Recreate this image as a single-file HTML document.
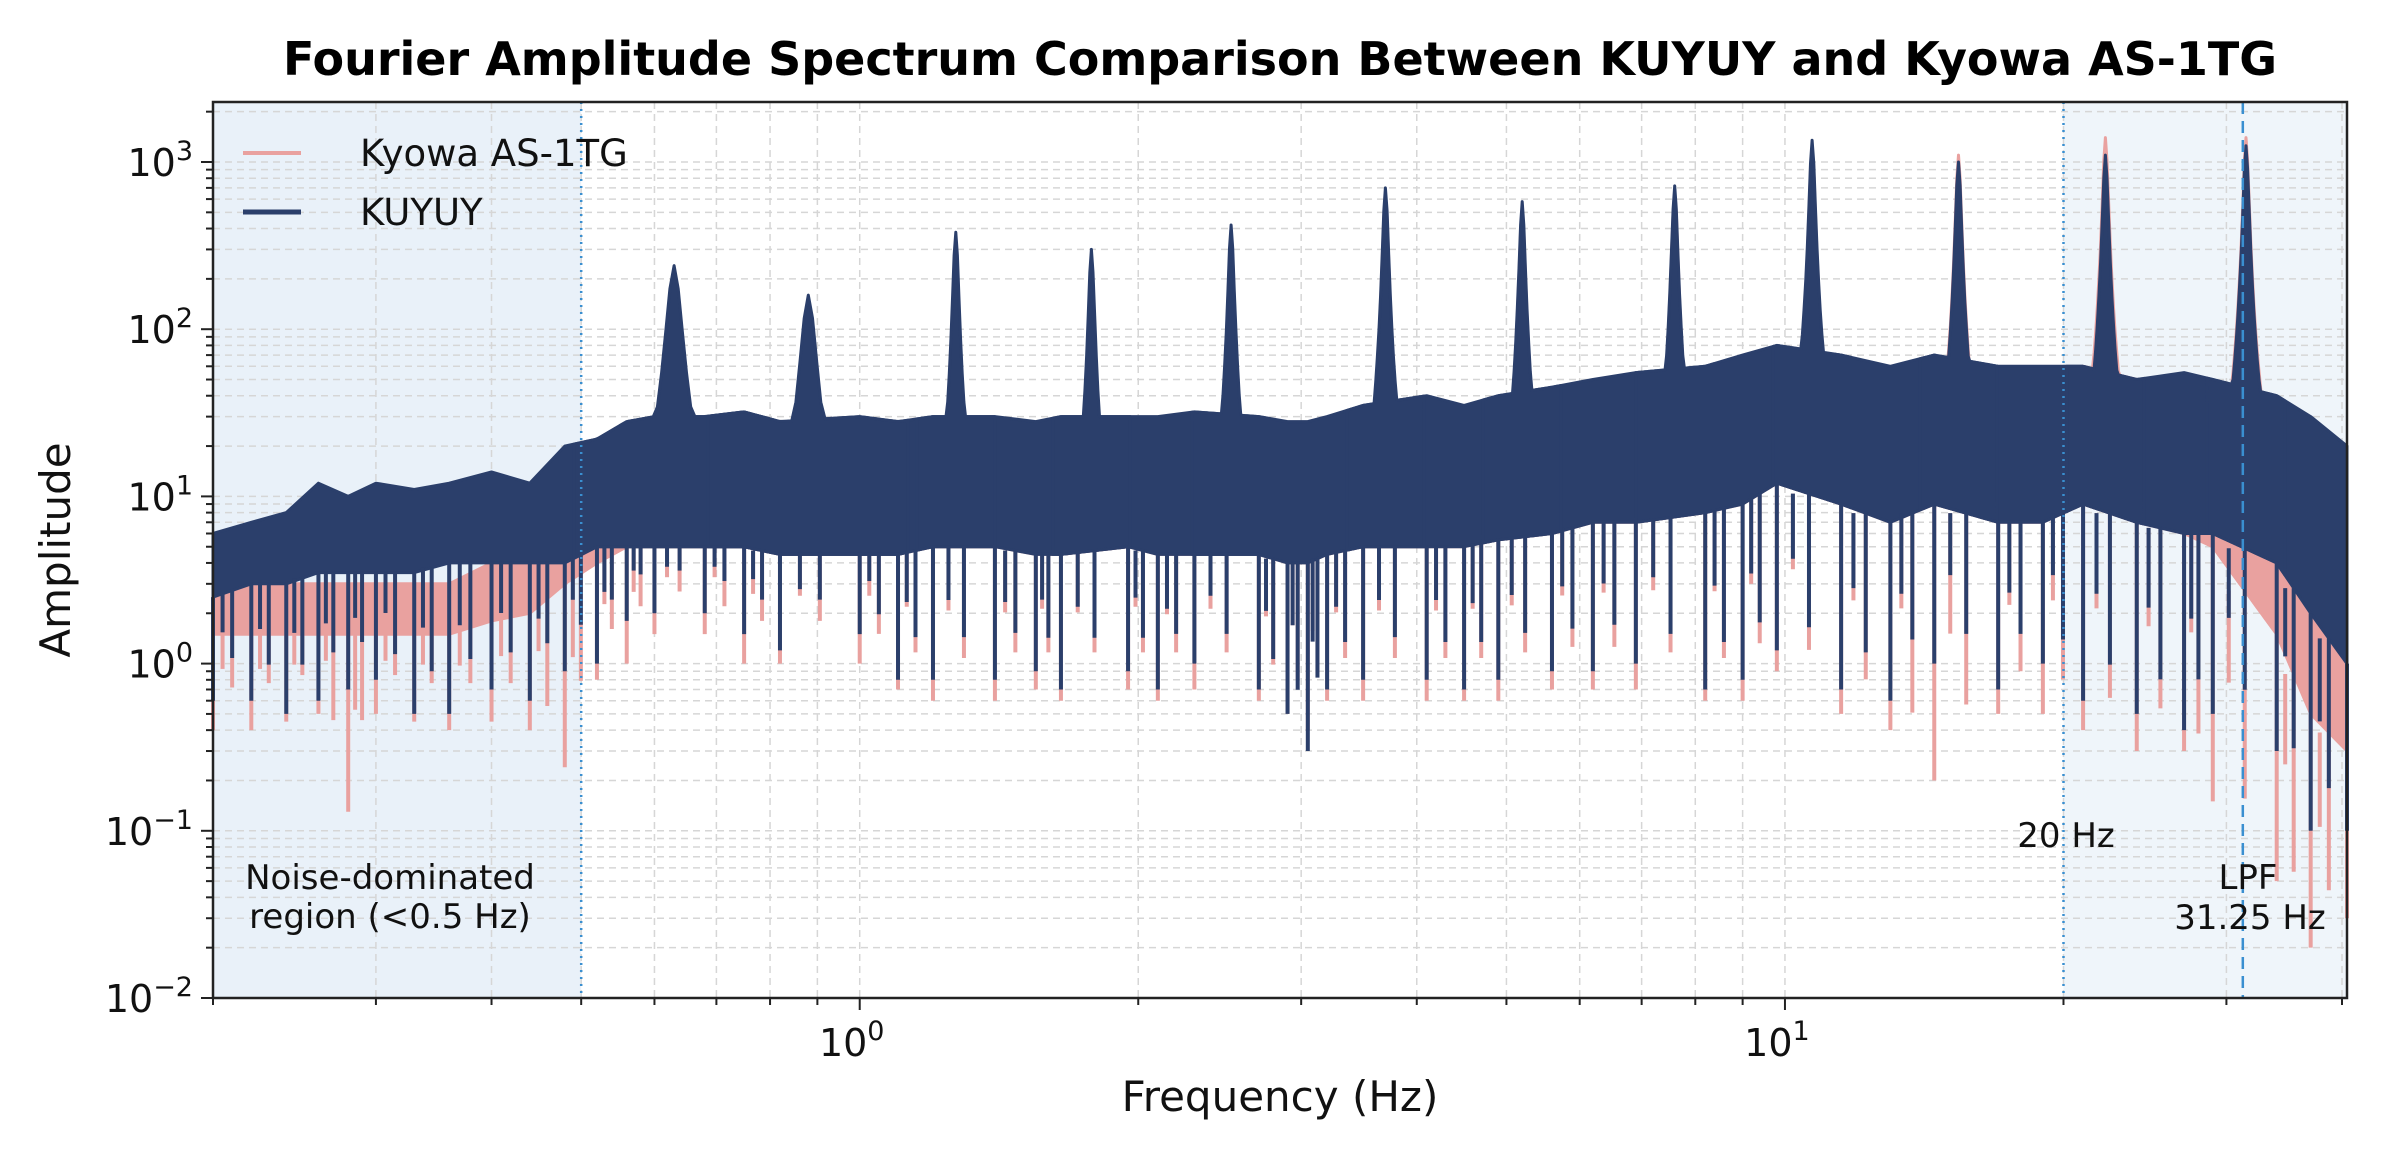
<!DOCTYPE html>
<html><head><meta charset="utf-8"><style>
html,body{margin:0;padding:0;background:#fff;}
svg{display:block;font-family:"DejaVu Sans","Liberation Sans",sans-serif;}
</style></head><body>
<svg id="chart" width="2382" height="1157" viewBox="0 0 2382 1157" xmlns="http://www.w3.org/2000/svg">
<text x="1280" y="75" text-anchor="middle" font-size="46" font-weight="bold" fill="#000">Fourier Amplitude Spectrum Comparison Between KUYUY and Kyowa AS-1TG</text>
<g id="plot"></g>
</svg>
<script>
const freqs   = [0.2,0.22,0.24,0.26,0.28,0.3,0.33,0.36,0.4,0.44,0.48,0.52,0.56,0.6,0.68,0.75,0.82,1.0,1.1,1.2,1.4,1.55,1.65,1.95,2.1,2.3,2.7,2.9,3.05,3.2,3.5,4.1,4.5,4.9,5.6,6.2,6.9,8.2,9.0,9.8,11.5,13,14.5,17,19,21,24,27,29,34,37,40.5];
const kuyuyHi = [6,7,8,12,10,12,11,12,14,12,20,22,28,30,30,32,28,30,28,30,30,28,30,30,30,32,30,28,28,30,35,40,35,40,45,50,55,60,70,80,70,60,70,60,60,60,50,55,50,40,30,20];
const kuyuyCore=[2.5,3,3,3.5,3.5,3.5,3.5,4,4,4,4,5,5,5,5,5,4.5,4.5,4.5,5,5,4.5,4.5,5,4.5,4.5,4.5,4,4,4.5,5,5,5,5.5,6,7,7,8,9,12,9,7,9,7,7,9,7,6,6,4,2,1];
const kuyuyLo = [0.6,0.6,0.5,0.6,0.7,0.8,0.5,0.5,0.7,0.6,0.9,1,1.8,2,2,1.5,1.2,1.5,0.8,0.8,0.8,0.9,0.7,0.9,0.7,1,0.7,0.5,0.3,0.7,0.8,0.8,0.7,0.8,0.9,0.9,1,0.7,0.8,1.2,0.7,0.6,1,0.7,1,0.6,0.5,0.4,0.5,0.3,0.1,0.1];
const kyowaHi = [3,3,3,3,3,3,3,3,4,5,10,15,20,25,25,25,25,25,25,25,25,25,25,25,25,25,25,25,25,25,30,35,30,35,40,45,50,55,60,70,60,55,60,55,55,60,50,50,45,35,25,15];
const kyowaCore=[1.5,1.5,1.5,1.5,1.5,1.5,1.5,1.5,1.8,2,3,4,5,5,5,5,4.5,4.5,4.5,5,5,4.5,4.5,5,4.5,4.5,4.5,4,4,4.5,5,5,5,5.5,6,7,7,8,9,12,9,7,9,7,7,9,7,6,5,1.5,0.5,0.3];
const kyowaLo = [0.4,0.4,0.45,0.5,0.13,0.5,0.45,0.4,0.45,0.4,0.24,0.8,1,1.5,1.5,1,1,1,0.7,0.6,0.6,0.7,0.6,0.7,0.6,0.7,0.6,0.5,0.4,0.6,0.6,0.6,0.6,0.6,0.7,0.7,0.7,0.6,0.6,0.9,0.5,0.4,0.2,0.5,0.5,0.4,0.3,0.3,0.15,0.05,0.02,0.03];
const peakFreqs = [0.63,0.88,1.27,1.78,2.52,3.7,5.2,7.6,10.7,15.4,22.2,31.5];
const kuyuyPeaks = [240,160,380,300,420,700,580,720,1350,1000,1100,1250];
const kyowaPeaks = [200,140,330,260,380,650,540,680,1250,1100,1400,1400];
const yTicks = [-2,-1,0,1,2,3];
const xTicks = [0,1];

const L=213,R=2347,T=102,B=998;
const XMIN=0.2,XMAX=40.5,YMINE=-2,DEC=167.2;
const xs=f=>L+(Math.log10(f)-Math.log10(XMIN))/(Math.log10(XMAX)-Math.log10(XMIN))*(R-L);
const ys=v=>B-(Math.log10(Math.max(v,1e-3))-YMINE)*DEC;
const NS='http://www.w3.org/2000/svg';
const g=document.getElementById('plot');
function mk(tag,attrs,parent){const e=document.createElementNS(NS,tag);for(const k in attrs)e.setAttribute(k,attrs[k]);(parent||g).appendChild(e);return e;}

let e=mk('rect',{x:L,y:T,width:xs(0.5)-L,height:B-T,fill:'#e9f1f9'});


e=mk('rect',{x:xs(20),y:T,width:R-xs(20),height:B-T,fill:'#eff5fa'});



const grid=mk('g',{stroke:'#d6d6d6','stroke-width':1.5,'stroke-dasharray':'7,5',fill:'none'});


for(let d=-1;d<=1;d++)for(let m=1;m<10;m++){const f=m*Math.pow(10,d);if(f<XMIN||f>XMAX)continue;const x=xs(f);mk('line',{x1:x,x2:x,y1:T,y2:B},grid);}
for(let d=-2;d<=3;d++)for(let m=1;m<10;m++){const v=m*Math.pow(10,d);const y=ys(v);if(y<T||y>B)continue;mk('line',{x1:L,x2:R,y1:y,y2:y},grid);}

function lorentz(fp,A,w){
  const pts=[];
  for(let i=-24;i<=24;i++){const d=i*w/4;const f=fp*Math.pow(10,d);const amp=A/(1+Math.pow(d/w,2)*6);pts.push([f,amp]);}
  return pts;
}
function interp(arr,f){for(let i=0;i<freqs.length-1;i++){if(f>=freqs[i]&&f<=freqs[i+1]){const t=(Math.log(f)-Math.log(freqs[i]))/(Math.log(freqs[i+1])-Math.log(freqs[i]));return Math.exp(Math.log(arr[i])*(1-t)+Math.log(arr[i+1])*t);}}return arr[arr.length-1];}

function drawSeries(name,hi,core,lo,peaks,color){
  const sg=mk('g',{});
  
  
  let d='';
  freqs.forEach((f,i)=>{d+=(i?'L':'M')+xs(f).toFixed(1)+','+ys(hi[i]).toFixed(1);});
  for(let i=freqs.length-1;i>=0;i--)d+='L'+xs(freqs[i]).toFixed(1)+','+ys(core[i]).toFixed(1);
  const band=mk('path',{d:d+'Z',fill:color,stroke:color,'stroke-width':3,'stroke-linejoin':'round'},sg);
  
  
  freqs.forEach((f,i)=>{
    const dip=mk('line',{x1:xs(f),x2:xs(f),y1:ys(core[i]),y2:ys(lo[i]),stroke:color,'stroke-width':4},sg);
    
    
    if(i<freqs.length-1){const fm=Math.sqrt(f*freqs[i+1]);const lm=Math.sqrt(lo[i]*lo[i+1])*1.8;const cm=Math.sqrt(core[i]*core[i+1]);
      const dip2=mk('line',{x1:xs(fm),x2:xs(fm),y1:ys(cm),y2:ys(Math.min(lm,cm)),stroke:color,'stroke-width':4},sg);
      
      
      const fq=Math.pow(f,0.75)*Math.pow(freqs[i+1],0.25);const lq=Math.sqrt(lo[i]*cm)*1.2;
      const dip3=mk('line',{x1:xs(fq),x2:xs(fq),y1:ys(cm),y2:ys(Math.min(lq,cm)),stroke:color,'stroke-width':4},sg);
      
      }
  });
  peakFreqs.forEach((fp,k)=>{
    const w=fp<1?0.018:0.007;
    const pts=lorentz(fp,peaks[k],w);
    let pd='';
    pts.forEach((p,i)=>{const base=interp(hi,p[0]);pd+=(i?'L':'M')+xs(p[0]).toFixed(1)+','+ys(Math.max(p[1],base)).toFixed(1);});
    for(let i=pts.length-1;i>=0;i--)pd+='L'+xs(pts[i][0]).toFixed(1)+','+ys(interp(core,pts[i][0])).toFixed(1);
    const pk=mk('path',{d:pd+'Z',fill:color,stroke:color,'stroke-width':3,'stroke-linejoin':'round'},sg);
    
    
  });
}
drawSeries('kyowa',kyowaHi,kyowaCore,kyowaLo,kyowaPeaks,'#e9a19f');
drawSeries('kuyuy',kuyuyHi,kuyuyCore,kuyuyLo,kuyuyPeaks,'#2b3f6b');

e=mk('line',{x1:xs(0.5),x2:xs(0.5),y1:T,y2:B,stroke:'#3a8fd0','stroke-width':2.5,'stroke-dasharray':'2,5'});


e=mk('line',{x1:xs(20),x2:xs(20),y1:T,y2:B,stroke:'#3a8fd0','stroke-width':2.5,'stroke-dasharray':'2,5'});


e=mk('line',{x1:xs(31.25),x2:xs(31.25),y1:T,y2:B,stroke:'#3a8fd0','stroke-width':2.5,'stroke-dasharray':'12,7'});



e=mk('rect',{x:L,y:T,width:R-L,height:B-T,fill:'none',stroke:'#222','stroke-width':2.5});



const tg=mk('g',{stroke:'#222','stroke-width':2});


for(let d=-1;d<=1;d++)for(let m=1;m<10;m++){const f=m*Math.pow(10,d);if(f<XMIN||f>XMAX)continue;const x=xs(f);mk('line',{x1:x,x2:x,y1:B,y2:B+(m==1?12:7)},tg);}
for(let d=-2;d<=3;d++)for(let m=1;m<10;m++){const v=m*Math.pow(10,d);const y=ys(v);if(y<T-1||y>B+1)continue;mk('line',{x1:L,x2:L-(m==1?12:7),y1:y,y2:y},tg);}
yTicks.forEach(p=>{const t=mk('text',{x:L-20,y:ys(Math.pow(10,p))+14,'text-anchor':'end','font-size':38,fill:'#111'});
  
  
  t.innerHTML='10<tspan dy="-16" font-size="27">'+(p<0?'\u2212'+(-p):p)+'</tspan>';});
xTicks.forEach(p=>{const t=mk('text',{x:xs(Math.pow(10,p))-8,y:B+58,'text-anchor':'middle','font-size':38,fill:'#111'});
  
  
  t.innerHTML='10<tspan dy="-16" font-size="27">'+p+'</tspan>';});

e=mk('text',{x:(L+R)/2,y:1111,'text-anchor':'middle','font-size':42,fill:'#111'});e.textContent='Frequency (Hz)';


e=mk('text',{x:0,y:0,transform:'translate(70,'+((T+B)/2)+') rotate(-90)','text-anchor':'middle','font-size':42,fill:'#111'});e.textContent='Amplitude';



e=mk('line',{x1:243,x2:301,y1:153,y2:153,stroke:'#e9a19f','stroke-width':4});


e=mk('text',{x:360,y:166,'font-size':37,fill:'#111'});e.textContent='Kyowa AS-1TG';


e=mk('line',{x1:243,x2:301,y1:212,y2:212,stroke:'#2b3f6b','stroke-width':5});


e=mk('text',{x:360,y:225,'font-size':37,fill:'#111'});e.textContent='KUYUY';



function ann(txt,x,y,name){const t=mk('text',{x:x,y:y,'text-anchor':'middle','font-size':34,fill:'#111'});t.textContent=txt;
  
  }
ann('Noise-dominated',390,889,'noise-annotation-line1');
ann('region (<0.5 Hz)',390,928,'noise-annotation-line2');
ann('20 Hz',2066,847,'20hz-annotation');
ann('LPF',2248,889,'lpf-annotation-line1');
ann('31.25 Hz',2250,929,'lpf-annotation-line2');
</script>
</body></html>
